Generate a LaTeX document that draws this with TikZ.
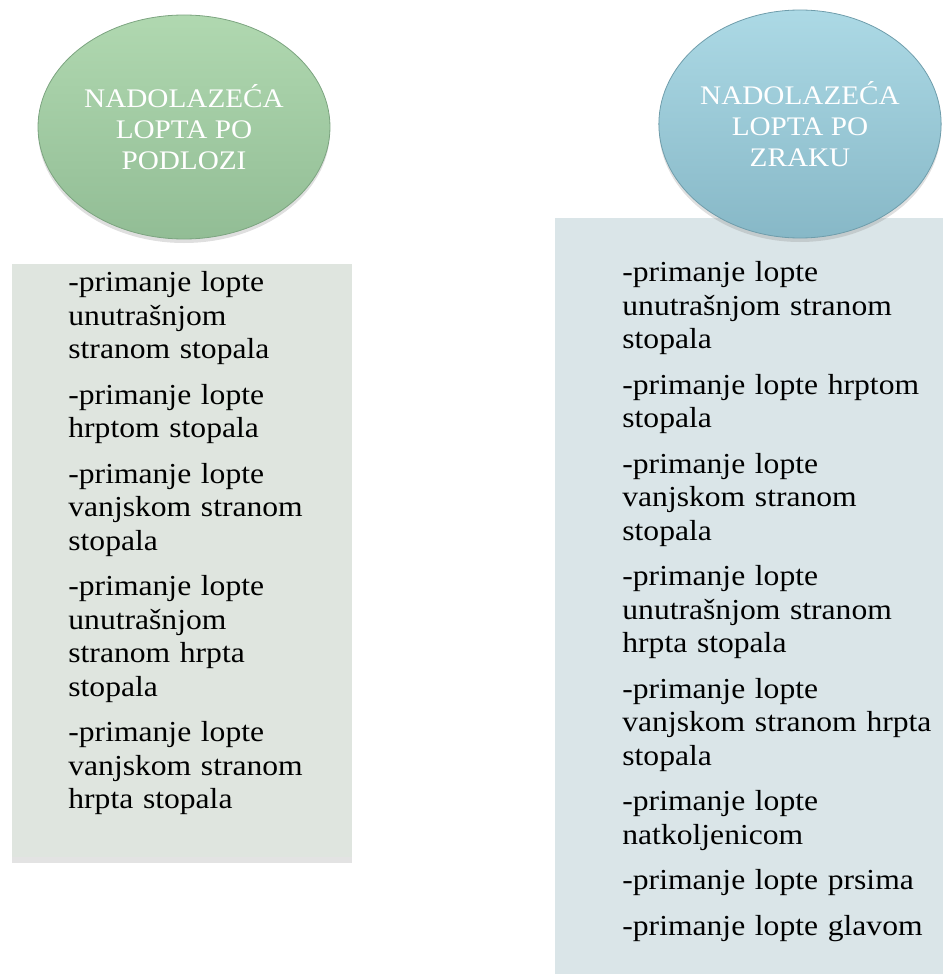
\documentclass[tikz,border=0pt]{standalone}
\usepackage{fontspec}
\setmainfont{Liberation Serif}[FakeStretch=1.09]
\usepackage{tikz}
\usetikzlibrary{shapes.geometric,shadows}

\definecolor{greentop}{HTML}{B0D8B0}
\definecolor{greenbot}{HTML}{92BD95}
\definecolor{greenrim}{HTML}{7CA480}
\definecolor{bluetop}{HTML}{ACD9E5}
\definecolor{bluebot}{HTML}{87B8C7}
\definecolor{bluerim}{HTML}{6F9DAB}
\definecolor{greenpanel}{HTML}{DFE5DF}
\definecolor{bluepanel}{HTML}{DAE5E8}

\tikzset{
  oval/.style={ellipse, inner sep=0pt, text=white, align=center,
    font=\fontsize{13.4}{15.5}\selectfont,
    drop shadow={opacity=0.25, shadow xshift=0pt, shadow yshift=-2pt}},
  panel/.style={rectangle, inner sep=0pt,
    drop shadow={opacity=0.22, shadow xshift=0pt, shadow yshift=-3pt}},
  items/.style={anchor=north west, inner sep=0pt, align=left,
    font=\fontsize{14.5}{16.75}\selectfont}
}

\begin{document}
\begin{tikzpicture}[x=0.5pt,y=-0.5pt]
		\useasboundingbox (0,0) rectangle (942,974);
		% the two panels
		\node[panel, fill=greenpanel, minimum width=170pt, minimum height=296.5pt] (lpanel) at (182,560.5) {};
		\node[panel, fill=bluepanel, minimum width=198.5pt, minimum height=386pt] (rpanel) at (753.5,604) {};
		% the two balls
		\node[oval, top color=greentop, bottom color=greenbot, draw=greenrim,
		      minimum width=146pt, minimum height=112pt] (lball) at (184,127)
		      {NADOLAZEĆA\\LOPTA PO\\PODLOZI};
		\node[oval, top color=bluetop, bottom color=bluebot, draw=bluerim,
		      minimum width=140pt, minimum height=114pt] (rball) at (800,124)
		      {NADOLAZEĆA\\LOPTA PO\\ZRAKU};
		% what goes in them
		\node[items, text width=125pt] (litems) at (68,271) {%
			-primanje lopte\\unutrašnjom\\stranom stopala\\[6pt]
			-primanje lopte\\hrptom stopala\\[6pt]
			-primanje lopte\\vanjskom stranom\\stopala\\[6pt]
			-primanje lopte\\unutrašnjom\\stranom hrpta\\stopala\\[6pt]
			-primanje lopte\\vanjskom stranom\\hrpta stopala};
		\node[items, text width=160pt] (ritems) at (622,261) {%
			-primanje lopte\\unutrašnjom stranom\\stopala\\[6pt]
			-primanje lopte hrptom\\stopala\\[6pt]
			-primanje lopte\\vanjskom stranom\\stopala\\[6pt]
			-primanje lopte\\unutrašnjom stranom\\hrpta stopala\\[6pt]
			-primanje lopte\\vanjskom stranom hrpta\\stopala\\[6pt]
			-primanje lopte\\natkoljenicom\\[6pt]
			-primanje lopte prsima\\[6pt]
			-primanje lopte glavom};
		\end{tikzpicture}
\end{document}
